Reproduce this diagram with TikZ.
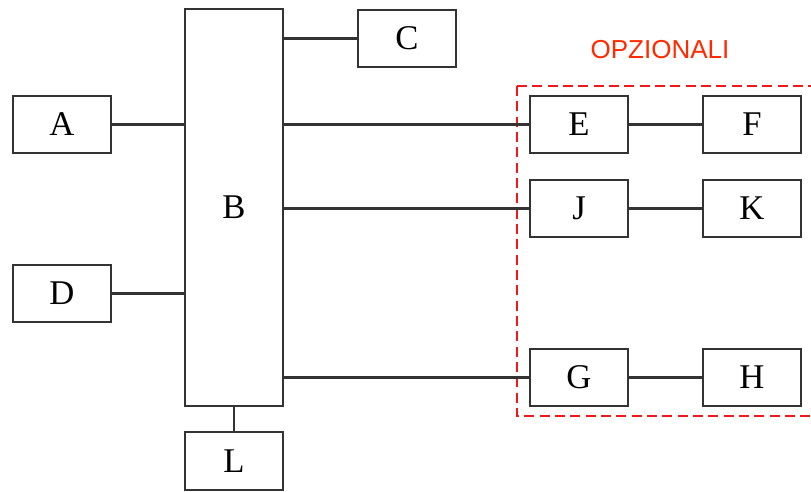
\documentclass[tikz,border=0pt]{standalone}
\usepackage{fontspec}
\setmainfont{Liberation Serif}
\newfontfamily\labelfont{Liberation Sans}
\usepackage{xcolor}
\definecolor{linegray}{HTML}{333333}
\definecolor{optred}{HTML}{FF2A00}
\definecolor{framered}{HTML}{F01818}
\usepackage{tikz}
\usetikzlibrary{positioning}

\begin{document}
\begin{tikzpicture}[
  x=0.75pt, y=-0.75pt,
  blk/.style={draw=linegray, line width=1.6pt, minimum width=73.5pt, minimum height=43pt,
              inner sep=0pt, font=\fontsize{26}{26}\selectfont},
  link/.style={draw=linegray, line width=1.6pt},
]
  \useasboundingbox (0,0) rectangle (811,492);

  % main bus
  \node[blk, minimum height=297.5pt] (B) at (234,207.5) {B};

  % left side
  \node[blk] (A) at (62,124.5) {A};
  \node[blk] (D) at (62,293.5) {D};
  \node[blk] (C) at (407,38.5) {C};
  \node[blk] (L) at (234,461) {L};

  % optional blocks
  \node[blk] (E) at (579,124.5) {E};
  \node[blk] (F) at (752,124.5) {F};
  \node[blk] (J) at (579,208.5) {J};
  \node[blk] (K) at (752,208.5) {K};
  \node[blk] (G) at (579,377.5) {G};
  \node[blk] (H) at (752,377.5) {H};

  % dashed frame
  \draw[framered, line width=1.4pt, dash pattern=on 7.5pt off 4pt] (517,86) rectangle (813,416);
  \node[text=optred, font=\labelfont\fontsize{19.5}{19.5}\selectfont] (opt) at (660,50) {OPZIONALI};

  % connections
  \draw[link] (A.east) -- (A.east -| B.west);
  \draw[link] (D.east) -- (D.east -| B.west);
  \draw[link] (C.west -| B.east) -- (C.west);
  \draw[link] (B.south) -- (L.north);
  \draw[link] (E.west -| B.east) -- (E.west);
  \draw[link] (J.west -| B.east) -- (J.west);
  \draw[link] (G.west -| B.east) -- (G.west);
  \draw[link] (E) -- (F);
  \draw[link] (J) -- (K);
  \draw[link] (G) -- (H);
\end{tikzpicture}
\end{document}
